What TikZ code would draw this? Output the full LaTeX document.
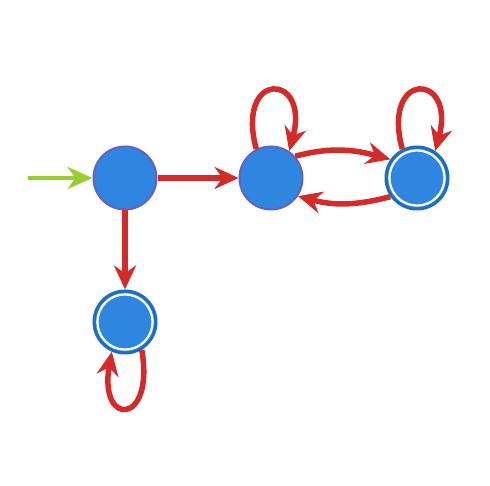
\documentclass[tikz,border=0pt]{standalone}
\usepackage{tikz}
\usetikzlibrary{arrows.meta,positioning}
\usepackage{xcolor}
\definecolor{stfill}{HTML}{2E86E0}
\definecolor{stline}{HTML}{6660BE}
\definecolor{acline}{HTML}{1C6DC4}
\definecolor{trred}{HTML}{D42A2A}
\definecolor{initgreen}{HTML}{9ACD32}

\begin{document}
\begin{tikzpicture}[x=1pt,y=1pt,
  state/.style={circle,fill=stfill,draw=stline,line width=2pt,minimum size=63pt,inner sep=0pt},
  accept/.style={circle,fill=stfill,draw=acline,line width=3pt,minimum size=62pt,inner sep=0pt,
    path picture={\draw[white,line width=2.3pt] (path picture bounding box.center) circle (27.6pt);}},
  trans/.style={trred,line width=5.5pt,-{Stealth[length=24pt,width=22pt,inset=8pt]}},
  initarrow/.style={initgreen,line width=4pt,-{Stealth[length=25pt,width=22pt,inset=8pt]}}]
  \useasboundingbox (0,0) rectangle (490,486);

  % states
  \node[state]  (q0) at (125,308) {};
  \node[state]  (q1) at (271,308) {};
  \node[accept] (q2) at (417,308) {};
  \node[accept] (q3) at (125,164) {};

  % initial arrow
  \coordinate (start) at (28,308);
  \draw[initarrow] (start) -- (q0);

  % transitions
  \draw[trans] (q0) -- (q1);
  \draw[trans] (q0) -- (q3);
  \draw[trans] (q1.42) to[out=15,in=165] (q2.145);
  \draw[trans] (q2.-145) to[out=-165,in=-15] (q1.-34);

  % loops
  \draw[trans] (q1.117) to[out=105,in=75,distance=82pt] (q1.56);
  \draw[trans] (q2.117) to[out=105,in=75,distance=82pt] (q2.56);
  \draw[trans] (q3.-59) to[out=-80,in=-100,distance=77pt] (q3.-114);
\end{tikzpicture}
\end{document}
